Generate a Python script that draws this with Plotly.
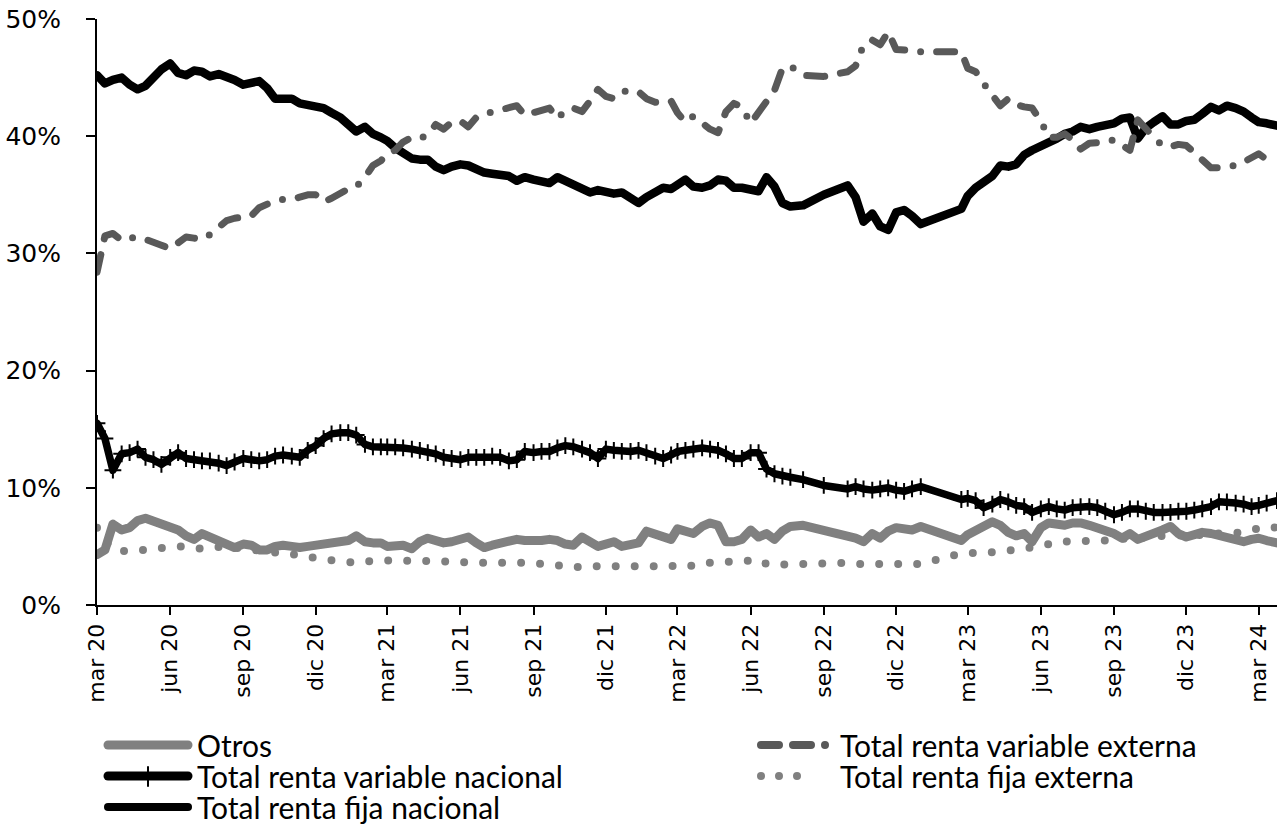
import pandas as pd
import plotly.graph_objects as go

# ---- fechas de observación (días 6, 16 y 26 de cada mes; huecos en 2022-2023) ----
def _tercios(desde, hasta):
    meses = pd.period_range(desde, hasta, freq="M")
    return [f"{m.strftime('%Y-%m')}-{d:02d}" for m in meses for d in (6, 16, 26)]

fechas = (
    _tercios("2020-03", "2022-07")
    + ["2022-08-11", "2022-09-06", "2022-10-06", "2022-10-16", "2022-10-26"]
    + _tercios("2022-11", "2022-12")
    + ["2023-01-06", "2023-02-26"]
    + _tercios("2023-03", "2024-02")
    + ["2024-03-06", "2024-03-16", "2024-03-29"]
)

# ---- participación de cada componente en el portafolio (%) ----
otros = [
    4.3, 4.7, 6.9, 6.4, 6.6, 7.2, 7.4, 7.2, 7.0, 6.8, 6.4, 5.9,
    5.6, 6.1, 5.8, 5.4, 5.3, 4.9, 5.2, 5.1, 4.7, 4.7, 5.0, 5.1,
    5.0, 4.9, 5.0, 5.1, 5.2, 5.3, 5.4, 5.5, 5.9, 5.4, 5.3, 5.3,
    5.0, 5.0, 5.1, 4.8, 5.4, 5.7, 5.4, 5.3, 5.4, 5.6, 5.8, 5.3,
    4.9, 5.1, 5.3, 5.4, 5.6, 5.5, 5.4, 5.5, 5.6, 5.5, 5.2, 5.1,
    5.8, 5.4, 5.0, 5.2, 5.4, 5.0, 5.1, 5.3, 6.3, 6.0, 5.8, 5.6,
    6.5, 6.3, 6.1, 6.7, 7.0, 6.8, 5.4, 5.4, 5.6, 6.4, 5.8, 6.1,
    5.6, 6.3, 6.7,
    6.8, 6.4, 6.0, 5.7, 5.4,
    6.1, 5.7, 6.3, 6.6, 6.4, 6.4,
    6.7, 5.5,
    6.0, 6.4, 6.6, 7.1, 6.8, 6.2, 5.9, 6.1, 5.4, 6.6, 7.0, 6.9,
    6.8, 7.0, 7.0, 6.8, 6.6, 6.5, 6.1, 5.7, 6.1, 5.6, 5.8, 6.1,
    6.4, 6.7, 6.1, 5.8, 6.0, 6.2, 6.1, 5.9, 5.7, 5.5, 5.4, 5.6,
    5.7, 5.5, 5.3,
]

rv_externa = [
    28.4, 31.5, 31.7, 31.1, 31.3, 31.4, 31.2, 31.0, 30.7, 30.4, 30.9, 31.4,
    31.3, 31.2, 31.6, 32.3, 32.8, 33.0, 33.1, 33.2, 33.9, 34.2, 34.5, 34.6,
    34.6, 34.8, 35.0, 35.0, 34.4, 34.7, 35.2, 35.5, 35.7, 36.5, 37.5, 37.9,
    38.5, 38.8, 39.5, 39.9, 39.8, 40.1, 41.0, 40.6, 41.2, 41.3, 40.8, 41.6,
    41.9, 42.1, 42.2, 42.5, 42.6, 41.8, 42.0, 42.2, 42.4, 41.5, 42.2, 42.4,
    42.1, 43.0, 44.0, 43.4, 43.2, 43.8, 43.9, 43.8, 43.2, 42.9, 43.0, 43.0,
    42.0, 41.2, 41.7, 41.1, 40.6, 40.3, 42.1, 42.8, 42.5, 41.1, 42.0, 43.0,
    43.9, 45.8, 46.0,
    45.2, 45.1, 45.5, 46.0, 47.8,
    48.2, 47.8, 48.9, 47.4, 47.4, 47.3,
    47.2, 47.2,
    45.8, 45.5, 44.5, 43.6, 42.6, 43.2, 42.7, 42.5, 42.4, 41.3, 39.9, 39.9,
    40.2, 39.7, 38.9, 39.4, 39.4, 39.5, 39.7, 39.2, 38.8, 41.4, 40.6, 39.9,
    39.2, 39.1, 39.3, 39.2, 38.6, 37.9, 37.3, 37.3, 37.4, 37.5, 37.8, 38.2,
    38.5, 38.0, 37.8,
]

rv_nacional = [
    15.5, 14.2, 11.5, 12.9, 13.0, 13.3, 12.6, 12.4, 12.0, 12.6, 13.0, 12.5,
    12.4, 12.3, 12.3, 12.1, 11.9, 12.2, 12.5, 12.4, 12.3, 12.4, 12.7, 12.8,
    12.7, 12.6, 13.2, 13.6, 14.2, 14.6, 14.7, 14.7, 14.5, 13.7, 13.5, 13.5,
    13.5, 13.5, 13.4, 13.3, 13.2, 13.0, 12.9, 12.6, 12.5, 12.4, 12.6, 12.6,
    12.6, 12.7, 12.6, 12.3, 12.4, 13.1, 13.0, 13.1, 13.1, 13.4, 13.6, 13.5,
    13.3, 13.0, 12.5, 13.3, 13.2, 13.1, 13.1, 13.2, 13.0, 12.7, 12.5, 12.8,
    13.1, 13.2, 13.3, 13.4, 13.3, 13.2, 12.9, 12.5, 12.5, 13.0, 13.0, 11.6,
    11.2, 11.0, 10.9,
    10.7, 10.2, 9.9, 10.1, 9.9,
    9.8, 9.9, 10.0, 9.8, 9.7, 9.9,
    10.1, 9.0,
    9.1, 8.9, 8.3, 8.6, 9.0, 8.8, 8.5, 8.4, 7.9, 8.2, 8.4, 8.2,
    8.1, 8.3, 8.4, 8.4, 8.3, 8.0, 7.7, 7.9, 8.2, 8.2, 8.0, 7.9,
    7.9, 7.9, 8.0, 8.0, 8.1, 8.2, 8.4, 8.8, 8.8, 8.7, 8.6, 8.4,
    8.5, 8.7, 8.9,
]

rf_externa = [
    6.6, 5.5, 4.8, 4.6, 4.6, 4.6, 4.7, 4.8, 4.9, 5.0, 5.0, 5.0,
    4.9, 4.8, 4.9, 5.0, 5.0, 4.9, 4.8, 4.7, 4.6, 4.5, 4.4, 4.4,
    4.3, 4.3, 4.1, 4.0, 3.9, 3.8, 3.8, 3.7, 3.6, 3.7, 3.8, 3.8,
    3.8, 3.8, 3.8, 3.8, 3.8, 3.8, 3.8, 3.8, 3.8, 3.7, 3.6, 3.6,
    3.6, 3.6, 3.7, 3.7, 3.7, 3.6, 3.6, 3.5, 3.5, 3.4, 3.3, 3.2,
    3.3, 3.3, 3.2, 3.2, 3.2, 3.3, 3.3, 3.2, 3.2, 3.3, 3.4, 3.4,
    3.3, 3.2, 3.4, 3.6, 3.6, 3.7, 3.7, 3.7, 3.7, 3.8, 3.9, 3.5,
    3.4, 3.5, 3.5,
    3.5, 3.6, 3.6, 3.5, 3.5,
    3.5, 3.4, 3.4, 3.4, 3.4, 3.5,
    3.5, 4.4,
    4.4, 4.4, 4.4, 4.5, 4.6, 4.6, 4.7, 4.8, 4.9, 5.1, 5.2, 5.4,
    5.4, 5.5, 5.5, 5.5, 5.4, 5.5, 5.6, 5.7, 5.7, 5.7, 5.8, 5.8,
    5.9, 5.9, 5.9, 6.0, 6.0, 6.0, 6.0, 6.1, 6.1, 6.1, 6.2, 6.4,
    6.5, 6.7, 6.6,
]

rf_nacional = [
    45.2, 44.5, 44.8, 45.0, 44.4, 44.0, 44.3, 45.0, 45.7, 46.2, 45.4, 45.2,
    45.6, 45.5, 45.1, 45.3, 45.1, 44.8, 44.4, 44.6, 44.7, 44.1, 43.2, 43.2,
    43.2, 42.8, 42.7, 42.6, 42.4, 42.0, 41.6, 41.0, 40.4, 40.8, 40.2, 39.9,
    39.6, 39.0, 38.5, 38.1, 38.0, 38.0, 37.4, 37.1, 37.4, 37.6, 37.5, 37.1,
    36.9, 36.8, 36.7, 36.6, 36.2, 36.5, 36.3, 36.2, 36.0, 36.5, 36.2, 35.9,
    35.6, 35.2, 35.4, 35.2, 35.1, 35.2, 34.8, 34.3, 34.8, 35.2, 35.6, 35.5,
    35.8, 36.3, 35.7, 35.6, 35.8, 36.3, 36.2, 35.6, 35.6, 35.5, 35.3, 36.5,
    35.7, 34.3, 34.0,
    34.1, 35.0, 35.8, 34.8, 32.7,
    33.4, 32.3, 32.0, 33.5, 33.7, 33.2,
    32.5, 33.8,
    34.9, 35.6, 36.1, 36.6, 37.5, 37.4, 37.6, 38.4, 38.8, 39.1, 39.4, 39.8,
    40.2, 40.4, 40.8, 40.6, 40.8, 40.9, 41.1, 41.5, 41.6, 39.8, 40.7, 41.2,
    41.7, 41.0, 41.0, 41.3, 41.4, 41.9, 42.5, 42.2, 42.6, 42.4, 42.1, 41.6,
    41.2, 41.1, 40.9,
]

for serie in (otros, rv_externa, rv_nacional, rf_externa, rf_nacional):
    assert len(serie) == len(fechas), (len(serie), len(fechas))

# ---- ejes ----
tick_fechas = [
    "2020-03-06", "2020-06-06", "2020-09-06", "2020-12-06",
    "2021-03-06", "2021-06-06", "2021-09-06", "2021-12-06",
    "2022-03-06", "2022-06-06", "2022-09-06", "2022-12-06",
    "2023-03-06", "2023-06-06", "2023-09-06", "2023-12-06",
    "2024-03-06",
]
tick_textos = [
    "mar 20", "jun 20", "sep 20", "dic 20",
    "mar 21", "jun 21", "sep 21", "dic 21",
    "mar 22", "jun 22", "sep 22", "dic 22",
    "mar 23", "jun 23", "sep 23", "dic 23",
    "mar 24",
]
y_ticks = [0, 10, 20, 30, 40, 50]
y_textos = ["0%", "10%", "20%", "30%", "40%", "50%"]

GRIS = "#808080"
GRIS_OSCURO = "#595959"
NEGRO = "#000000"
GUION_PUNTO = "18px,16px,18px,16px,0px,16px"
PUNTEADO = "0px,19px"

fig = go.Figure()

fig.add_trace(go.Scatter(
    x=fechas, y=rf_nacional, name="Total renta fija nacional", mode="lines",
    line=dict(color=NEGRO, width=8.5),
))
fig.add_trace(go.Scatter(
    x=fechas, y=rf_externa, name="Total renta fija externa", mode="lines",
    line=dict(color=GRIS, width=8, dash=PUNTEADO),
))
fig.add_trace(go.Scatter(
    x=fechas, y=rv_nacional, name="Total renta variable nacional", mode="lines+markers",
    line=dict(color=NEGRO, width=7.5),
    marker=dict(symbol="cross-thin", size=12, line=dict(color=NEGRO, width=2)),
))
fig.add_trace(go.Scatter(
    x=fechas, y=rv_externa, name="Total renta variable externa", mode="lines",
    line=dict(color=GRIS_OSCURO, width=7, dash=GUION_PUNTO),
))
fig.add_trace(go.Scatter(
    x=fechas, y=otros, name="Otros", mode="lines",
    line=dict(color=GRIS, width=9),
))

# ---- leyenda dibujada en dos columnas ----
L, R, T, B = 97, 2, 19, 222
W_PLOT = 1279 - L - R
H_PLOT = 827 - T - B


def px_x(px):
    return (px - L) / W_PLOT


def px_y(py):
    return (827 - B - py) / H_PLOT


leyenda = [
    # texto, (x inicio muestra, x fin muestra, x texto), fila y, estilo
    ("Otros", (108, 188, 195), 745, dict(color=GRIS, width=9)),
    ("Total renta variable nacional", (108, 188, 195), 776, dict(color=NEGRO, width=9)),
    ("Total renta fija nacional", (108, 188, 195), 807, dict(color=NEGRO, width=8)),
    ("Total renta variable externa", (761, 831, 838), 745,
     dict(color=GRIS_OSCURO, width=8, dash="18px,14px,18px,14px,0px,40px")),
    ("Total renta fija externa", (761, 815, 838), 776,
     dict(color=GRIS, width=8, dash="0px,18px")),
]

shapes = []
annotations = []
for texto, (x0, x1, xt), fy, estilo in leyenda:
    shapes.append(dict(
        type="line", xref="paper", yref="paper",
        x0=px_x(x0), x1=px_x(x1), y0=px_y(fy), y1=px_y(fy), line=estilo,
    ))
    annotations.append(dict(
        text=texto, xref="paper", yref="paper", x=px_x(xt), y=px_y(fy),
        xanchor="left", yanchor="middle", showarrow=False,
        font=dict(family="Lato", size=30, color=NEGRO),
    ))
# marca "+" de la serie de renta variable nacional en su muestra
shapes.append(dict(
    type="line", xref="paper", yref="paper",
    x0=px_x(148), x1=px_x(148), y0=px_y(767), y1=px_y(786),
    line=dict(color=NEGRO, width=2),
))

fig.update_layout(
    width=1279, height=827,
    margin=dict(l=L, r=R, t=T, b=B),
    plot_bgcolor="white", paper_bgcolor="white",
    showlegend=False,
    font=dict(family="DejaVu Sans", color=NEGRO),
    shapes=shapes,
    annotations=annotations,
)
fig.update_xaxes(
    type="date", range=["2020-03-06", "2024-03-29"],
    tickmode="array", tickvals=tick_fechas, ticktext=tick_textos, tickangle=-90,
    ticks="outside", ticklen=8, tickwidth=2, tickcolor=NEGRO,
    showline=True, linecolor=NEGRO, linewidth=2,
    showgrid=False, zeroline=False,
    tickfont=dict(family="DejaVu Sans", size=22, color=NEGRO),
)
fig.update_yaxes(
    range=[0, 50], tickmode="array", tickvals=y_ticks, ticktext=y_textos,
    ticks="outside", ticklen=9, tickwidth=2, tickcolor=NEGRO,
    showline=True, linecolor=NEGRO, linewidth=2,
    showgrid=False, zeroline=False,
    ticklabelstandoff=20,
    tickfont=dict(family="DejaVu Sans", size=25, color=NEGRO),
)

redondear = """
document.body.style.margin = '0';
var gd = document.getElementById('{plot_id}');
gd.querySelectorAll('.scatterlayer path.js-line, .shapelayer path').forEach(function (p) {
    p.style.strokeLinecap = 'round';
    p.style.strokeLinejoin = 'round';
});
"""

fig.write_html("out.html", post_script=redondear)
